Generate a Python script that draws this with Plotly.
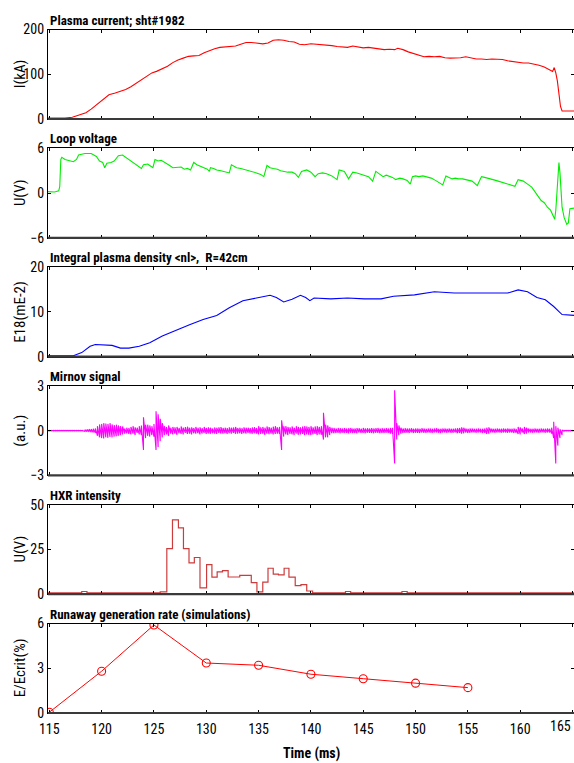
import plotly.graph_objects as go

# ---------------- data ----------------
ip_t = [114.8, 116.5, 117.2, 117.8, 118.5, 119.0, 119.5, 120.0, 120.7, 121.3, 121.8, 122.3, 122.8,
        123.3, 123.8, 124.3, 124.8, 125.3, 125.8, 126.3, 126.8, 127.3, 127.8, 128.3, 128.8, 129.3,
        129.8, 130.3, 130.8, 131.3, 131.8, 132.3, 132.8, 133.3, 133.8, 134.3, 134.8, 135.4, 135.9,
        136.4, 136.9, 137.4, 137.9, 138.4, 138.9, 139.4, 140.0, 140.5, 141.0, 141.5, 142.0, 142.5,
        143.0, 143.5, 144.0, 144.5, 145.0, 145.5, 146.0, 146.5, 147.0, 147.5, 148.0, 148.3, 148.8,
        149.3, 149.8, 150.3, 150.8, 151.3, 151.8, 152.3, 152.8, 153.3, 153.8, 154.3, 154.8, 155.3,
        155.8, 156.3, 156.8, 157.3, 157.8, 158.3, 158.8, 159.3, 159.8, 160.3, 160.8, 161.3, 161.8,
        162.3, 162.7, 163.1, 163.25, 163.4, 163.55, 163.7, 163.85, 164.0, 165.2]
ip_v = [2, 2, 4, 8, 14, 22, 32, 42, 54, 58, 62, 66, 72,
        80, 88, 96, 103, 107, 112, 118, 126, 132, 136, 140, 141, 142,
        148, 153, 157, 160, 161, 161, 163, 167, 171, 171, 169, 168, 170,
        176, 177, 176, 173, 172, 167, 166, 168, 167, 167, 166, 164, 162,
        161, 160, 163, 161, 159, 160, 158, 156, 155, 156, 155, 158, 155,
        150, 146, 143, 139, 140, 139, 140, 137, 136, 136, 137, 139, 137,
        134, 134, 133, 134, 134, 133, 130, 128, 126, 125, 125, 123, 120,
        116, 111, 106, 115, 103, 85, 55, 28, 18, 18]

uloop_t = [114.83, 115.5, 115.9, 116.0, 116.1, 116.2, 116.5, 116.8, 117.1, 117.3, 117.6, 117.8,
           118.4, 119.0, 119.5, 119.8, 120.1, 120.3, 120.5, 120.9, 121.2, 121.6, 122.0, 122.5,
           122.8, 123.0, 123.4, 123.8, 124.0, 124.4, 124.7, 124.9, 125.1, 125.4, 125.7, 126.1,
           126.5, 126.8, 127.2, 127.6, 127.9, 128.2, 128.5, 128.8, 129.1, 129.5, 129.8, 130.1,
           130.3, 130.4, 130.7, 131.0, 131.4, 131.7, 132.2, 132.4, 132.7, 132.9, 133.3, 133.6,
           133.9, 134.2, 134.5, 134.8, 135.2, 135.5, 135.8, 136.1, 136.4, 136.8, 137.1, 137.4,
           137.8, 138.2, 138.5, 138.8, 139.1, 139.6, 140.0, 140.4, 140.7, 141.1, 141.5, 142.0,
           142.5, 142.7, 143.0, 143.2, 143.6, 144.0, 144.4, 144.8, 145.2, 145.5, 145.9, 146.2,
           146.6, 146.9, 147.2, 147.5, 147.8, 148.1, 148.5, 148.8, 149.2, 149.5, 149.7, 150.0,
           150.3, 150.7, 151.1, 151.5, 151.9, 152.3, 152.6, 152.9, 153.2, 153.5, 153.8, 154.1,
           154.5, 154.8, 155.1, 155.4, 155.9, 156.3, 156.6, 157.0, 157.4, 157.9, 158.4, 158.9,
           159.5, 159.8, 160.3, 160.8, 161.1, 161.4, 161.7, 162.0, 162.3, 162.6, 162.9, 163.1,
           163.3, 163.4, 163.55, 163.7, 163.8, 164.0, 164.2, 164.45, 164.6, 164.75, 165.2]
uloop_v = [0.2, 0.15, 0.3, 0.9, 4.5, 4.8, 4.5, 4.4, 4.2, 4.2, 4.5, 5.1,
           5.3, 5.3, 4.9, 4.3, 4.1, 3.4, 4.0, 4.1, 4.3, 5.0, 5.1, 4.6,
           4.4, 4.2, 3.8, 3.3, 3.8, 3.9, 3.6, 3.4, 4.5, 4.3, 4.4, 4.1,
           3.7, 3.4, 3.4, 3.5, 3.2, 3.3, 3.1, 4.1, 3.8, 3.6, 3.4, 3.2,
           2.9, 3.4, 3.3, 3.1, 3.0, 2.9, 2.7, 3.8, 3.5, 3.4, 3.3, 3.2,
           3.1, 2.9, 2.9, 2.7, 2.5, 2.2, 3.7, 3.4, 3.3, 3.2, 3.0, 2.9,
           2.8, 2.8, 2.6, 2.1, 2.9, 3.1, 2.8, 2.2, 2.6, 2.7, 2.6, 2.3,
           1.8, 3.1, 3.0, 2.9, 1.9, 2.8, 2.7, 2.5, 2.4, 2.2, 1.6, 2.9,
           2.5, 2.2, 2.4, 2.3, 2.1, 1.8, 2.0, 1.9, 1.7, 1.2, 2.2, 2.3,
           2.2, 2.3, 2.2, 2.0, 1.7, 1.4, 1.1, 2.3, 2.1, 1.9, 2.0, 1.9,
           1.9, 1.8, 1.7, 1.6, 1.0, 2.2, 2.1, 2.0, 1.8, 1.6, 1.4, 1.2,
           0.9, 1.8, 1.6, 1.1, 0.8, 0.2, -0.4, -1.0, -1.3, -1.9, -2.3, -2.8,
           -3.5, -2.3, 1.8, 4.1, 2.7, -1.9, -3.3, -4.2, -4.0, -2.1, -2.0]

dens_t = [114.8, 117.3, 118.1, 118.9, 119.4, 120.2, 121.0, 121.8, 122.6, 123.6, 124.6, 125.8,
          127.1, 128.4, 129.7, 131.0, 132.2, 133.5, 134.8, 136.1, 136.7, 137.4, 138.2, 139.0,
          139.5, 139.9, 140.3, 141.9, 143.5, 145.1, 146.7, 147.9, 149.9, 151.8, 153.7, 155.6,
          157.6, 158.8, 159.8, 160.7, 161.6, 162.4, 163.2, 164.0, 165.2]
dens_v = [0.2, 0.2, 0.9, 2.3, 2.7, 2.6, 2.5, 1.9, 1.9, 2.3, 3.1, 4.6,
          5.9, 7.1, 8.3, 9.2, 10.9, 12.5, 13.1, 13.7, 13.2, 12.2, 12.8, 13.7,
          13.2, 12.5, 13.1, 12.9, 13.1, 12.9, 12.9, 13.5, 13.8, 14.5, 14.2, 14.2,
          14.2, 14.2, 14.9, 14.5, 13.2, 12.7, 11.2, 9.4, 9.2]

# Mirnov probe signal: max / min of the trace in each 0.2 ms bin starting at 114.8 ms
mirnov_t0 = 114.8
mirnov_dt = 0.2
mirnov_hi = [0.01] * 18 + [
    0.06, 0.08, 0.1, 0.1, 0.12, 0.15,
    0.3, 0.42, 0.45, 0.5, 0.48, 0.45, 0.5, 0.42, 0.38, 0.4, 0.35, 0.3, 0.28,
    0.15, 0.2, 0.18, 0.25, 0.3, 0.22, 0.2, 0.3, 0.35,
    0.9, 0.4,
    0.4, 0.35, 0.3, 0.45,
    1.3, 1.1, 0.8, 0.5,
    0.3, 0.25, 0.35, 0.2, 0.25,
    0.22, 0.25, 0.18, 0.28, 0.2, 0.24, 0.26, 0.2, 0.22, 0.18,
    0.25, 0.2, 0.22, 0.16, 0.25, 0.18, 0.22, 0.2, 0.15, 0.21,
    0.19, 0.22, 0.24, 0.18, 0.2, 0.17, 0.22, 0.19, 0.21, 0.25,
    0.18, 0.2, 0.16, 0.22, 0.19, 0.2, 0.17, 0.21, 0.23, 0.18,
    0.3, 0.22, 0.25, 0.2, 0.28, 0.24, 0.2, 0.26, 0.3, 0.22,
    0.25,
    0.7, 0.3,
    0.3, 0.25, 0.22, 0.28, 0.2, 0.3, 0.25, 0.22, 0.27, 0.3,
    0.28, 0.25, 0.3, 0.22, 0.28, 0.3, 0.25, 0.3,
    1.2, 0.4,
    0.35, 0.25, 0.2, 0.18, 0.15, 0.18, 0.16, 0.14, 0.17, 0.15,
    0.16, 0.18, 0.14, 0.15, 0.17, 0.16, 0.13, 0.18, 0.15, 0.16,
    0.14, 0.17, 0.15, 0.16, 0.18, 0.14, 0.16, 0.15, 0.17, 0.14,
    0.18, 0.2,
    2.7, 0.5,
    0.35, 0.2, 0.15, 0.16, 0.14, 0.15, 0.16, 0.13, 0.15, 0.14,
    0.13, 0.16, 0.15, 0.12, 0.14, 0.15, 0.13, 0.14, 0.16, 0.13,
    0.12, 0.15, 0.14, 0.13, 0.15, 0.12, 0.13, 0.14, 0.16, 0.18,
    0.22, 0.2, 0.14, 0.13, 0.15, 0.14, 0.12, 0.13, 0.14, 0.12,
    0.13, 0.15, 0.2, 0.22, 0.14, 0.13, 0.12, 0.14, 0.13, 0.12,
    0.14, 0.13, 0.15, 0.12, 0.13, 0.14, 0.12, 0.25, 0.22, 0.14,
    0.25, 0.2, 0.14, 0.13, 0.12, 0.14, 0.13, 0.12, 0.14, 0.13,
    0.12, 0.14, 0.13,
    0.2, 0.6, 0.3, 0.2, 0.1, 0.05, 0.02, 0.01, 0.01, 0.01, 0.01, 0.01]
mirnov_lo = [-0.01] * 18 + [
    -0.05, -0.07, -0.08, -0.1, -0.12, -0.15,
    -0.35, -0.45, -0.5, -0.52, -0.45, -0.48, -0.42, -0.45, -0.4, -0.38, -0.35, -0.3, -0.25,
    -0.2, -0.18, -0.22, -0.25, -0.2, -0.3, -0.15, -0.25, -0.3,
    -1.3, -0.5,
    -0.35, -0.4, -0.3, -0.4,
    -1.3, -1.1, -0.7, -0.45,
    -0.3, -0.25, -0.35, -0.2, -0.25,
    -0.2, -0.28, -0.18, -0.22, -0.25, -0.15, -0.22, -0.2, -0.25, -0.17,
    -0.2, -0.18, -0.25, -0.2, -0.16, -0.22, -0.19, -0.21, -0.18, -0.2,
    -0.22, -0.15, -0.19, -0.2, -0.17, -0.22, -0.18, -0.2, -0.16, -0.21,
    -0.2, -0.17, -0.22, -0.18, -0.2, -0.16, -0.19, -0.21, -0.18, -0.2,
    -0.25, -0.22, -0.2, -0.28, -0.2, -0.24, -0.2, -0.25, -0.22, -0.2,
    -0.22,
    -1.3, -0.4,
    -0.25, -0.3, -0.22, -0.25, -0.3, -0.2, -0.28, -0.25, -0.22, -0.3,
    -0.25, -0.28, -0.3, -0.25, -0.22, -0.3, -0.25, -0.28,
    -0.6, -0.45,
    -0.45, -0.3, -0.18, -0.17, -0.16, -0.15, -0.18, -0.14, -0.16, -0.15,
    -0.17, -0.14, -0.16, -0.15, -0.18, -0.13, -0.16, -0.15, -0.17, -0.14,
    -0.15, -0.16, -0.18, -0.14, -0.15, -0.17, -0.15, -0.16, -0.14, -0.16,
    -0.2, -0.22,
    -2.2, -0.6,
    -0.3, -0.2, -0.16, -0.15, -0.14, -0.15, -0.13, -0.16, -0.14, -0.15,
    -0.16, -0.12, -0.14, -0.15, -0.13, -0.14, -0.15, -0.13, -0.12, -0.14,
    -0.15, -0.13, -0.12, -0.14, -0.13, -0.15, -0.14, -0.12, -0.18, -0.16,
    -0.2, -0.18, -0.13, -0.15, -0.14, -0.12, -0.13, -0.14, -0.12, -0.13,
    -0.15, -0.14, -0.22, -0.2, -0.13, -0.12, -0.14, -0.13, -0.12, -0.14,
    -0.13, -0.12, -0.14, -0.13, -0.12, -0.15, -0.14, -0.22, -0.25, -0.13,
    -0.22, -0.2, -0.13, -0.12, -0.14, -0.13, -0.12, -0.14, -0.13, -0.12,
    -0.14, -0.12, -0.13,
    -0.2, -0.5, -2.2, -1.0, -0.5, -0.3, -0.05, -0.01, -0.01, -0.01, -0.01, -0.01]

# HXR intensity (step histogram: value holds from each time to the next)
hxr_t = [114.83, 118.1, 118.6, 125.6, 126.23, 126.77, 127.34, 127.82, 128.35, 128.86, 129.4,
         130.03, 130.54, 131.04, 131.55, 132.09, 133.2, 134.3, 134.84, 135.4, 135.9, 136.4,
         136.9, 137.44, 137.9, 138.5, 139.05, 139.6, 140.16, 143.3, 143.8, 148.7, 149.2, 165.2]
hxr_v = [0.8, 1.5, 0.8, 1.3, 25.5, 41.5, 37.0, 25.5, 17.5, 20.5, 3.5,
         16.5, 9.5, 12.5, 13.2, 9.6, 10.5, 6.5, 1.3, 6.8, 14.5, 11.2,
         10.8, 14.5, 9.5, 4.8, 5.3, 1.8, 0.8, 1.5, 0.8, 1.5, 0.8, 0.8]

# Runaway generation rate (simulations)
rg_t = [115, 120, 125, 130, 135, 140, 145, 150, 155]
rg_v = [0.05, 2.8, 5.9, 3.35, 3.2, 2.6, 2.3, 2.0, 1.7]

titles = ["Plasma current; sht#1982", "Loop voltage", "Integral plasma density <nl>,  R=42cm",
          "Mirnov signal", "HXR intensity", "Runaway generation rate (simulations)"]
ylabels = ["I(kA)", "U(V)", "E18(mE-2)", "(a.u.)", "U(V)", "E/Ecrit(%)"]
yranges = [[0, 200], [-6, 6], [0, 20], [-3, 3], [0, 50], [0, 6]]
yticks = [[0, 100, 200], [-6, 0, 6], [0, 10, 20], [-3, 0, 3], [0, 25, 50], [0, 3, 6]]
xticks = [115, 120, 125, 130, 135, 140, 145, 150, 155, 160, 165]
xlabel = "Time (ms)"

# ---------------- figure ----------------
W, H = 574, 763
ML = 48
FONT = "Roboto Condensed, Liberation Sans Narrow, Arial Narrow, sans-serif"
panel_top = [29.5, 148.3, 267.1, 385.9, 504.7, 623.5]
panel_h = 89.5
XR = [114.876, 165.14]

# Mirnov min/max drawn as a connected run of vertical strokes
n_m = min(len(mirnov_hi), len(mirnov_lo))
mx, my = [], []
for k in range(n_m):
    tk = round(mirnov_t0 + mirnov_dt * k, 2)
    mx += [tk, tk]
    my += [mirnov_lo[k], mirnov_hi[k]]

fig = go.Figure()
series = [
    (ip_t, ip_v, dict(color="#ff0000", width=1.1), "lines", None),
    (uloop_t, uloop_v, dict(color="#00ee00", width=1.1), "lines", None),
    (dens_t, dens_v, dict(color="#0000ff", width=1.1), "lines", None),
    (mx, my, dict(color="#ff00ff", width=1.1), "lines", None),
    (hxr_t, hxr_v, dict(color="#cc3c3c", width=1.2, shape="hv"), "lines", None),
    (rg_t, rg_v, dict(color="#ff0000", width=1), "lines+markers",
     dict(symbol="circle-open", size=8, color="#ff0000", line=dict(width=1.1))),
]
for i, (x, y, ln, mode, mk) in enumerate(series):
    sfx = "" if i == 0 else str(i + 1)
    kw = dict(x=x, y=y, mode=mode, line=ln, xaxis="x" + sfx, yaxis="y" + sfx,
              showlegend=False, hoverinfo="skip")
    if mk:
        kw["marker"] = mk
    fig.add_trace(go.Scatter(**kw))

# the last x tick label sits at the window edge: draw it right-aligned so it stays whole
xticktext = [str(v) for v in xticks[:-1]] + [""]

layout = dict(template="none", width=W, height=H, margin=dict(l=ML, r=0, t=0, b=0, pad=0),
              paper_bgcolor="white", plot_bgcolor="white",
              font=dict(family=FONT, size=14, color="black"), showlegend=False)
annotations = []
shapes = []
for i in range(6):
    sfx = "" if i == 0 else str(i + 1)
    top = panel_top[i]
    d1 = 1 - top / H
    d0 = 1 - (top + panel_h) / H
    layout["xaxis" + sfx] = dict(
        range=XR, domain=[0, 1], anchor="y" + sfx, showgrid=False, zeroline=False,
        automargin=False,
        showline=True, linecolor="black", linewidth=1.2, mirror="ticks",
        ticks="inside", ticklen=3, tickwidth=1, tickcolor="black",
        tickvals=xticks, ticktext=xticktext, showticklabels=(i == 5),
        tickfont=dict(family=FONT, size=14), ticklabelstandoff=3)
    layout["yaxis" + sfx] = dict(
        range=yranges[i], domain=[d0, d1], anchor="x" + sfx, showgrid=False, zeroline=False,
        automargin=False, ticklabeloverflow="allow",
        showline=True, linecolor="black", linewidth=1.2, mirror="ticks",
        ticks="inside", ticklen=3, tickwidth=1, tickcolor="black",
        tickvals=yticks[i], tickfont=dict(family=FONT, size=14))
    annotations.append(dict(text="<b>%s</b>" % titles[i].replace("<", "&lt;").replace(">", "&gt;"),
                            xref="paper", yref="paper", x=0, y=d1, xanchor="left",
                            yanchor="bottom", showarrow=False, yshift=0,
                            font=dict(family=FONT, size=13, color="black")))
    annotations.append(dict(text=ylabels[i], xref="paper", yref="paper",
                            x=(20 - ML) / (W - ML), y=(d0 + d1) / 2, textangle=-90,
                            xanchor="center", yanchor="middle", showarrow=False,
                            font=dict(family=FONT, size=15, color="black")))
    shapes.append(dict(type="line", xref="x" + sfx + " domain", yref="y" + sfx + " domain",
                       x0=0, x1=1, y0=0, y1=0, line=dict(color="#3a3a3a", width=2.2)))

d0_last = 1 - (panel_top[5] + panel_h) / H
annotations.append(dict(text=str(xticks[-1]), xref="paper", yref="paper", x=1, y=d0_last,
                        xanchor="right", yanchor="top", yshift=-3, xshift=-1, showarrow=False,
                        font=dict(family=FONT, size=14, color="black")))
annotations.append(dict(text="<b>%s</b>" % xlabel, xref="paper", yref="paper",
                        x=(311 - ML) / (W - ML), y=1 - 753 / H, xanchor="center",
                        yanchor="middle", showarrow=False,
                        font=dict(family=FONT, size=14, color="black")))
layout["annotations"] = annotations
layout["shapes"] = shapes
fig.update_layout(**layout)
# remove the page's default 8 px body margin so the 574x763 figure fills the window exactly
fig.write_html("out.html", config={"displayModeBar": False},
               post_script="document.body.style.margin='0px';document.body.style.overflow='hidden';")
